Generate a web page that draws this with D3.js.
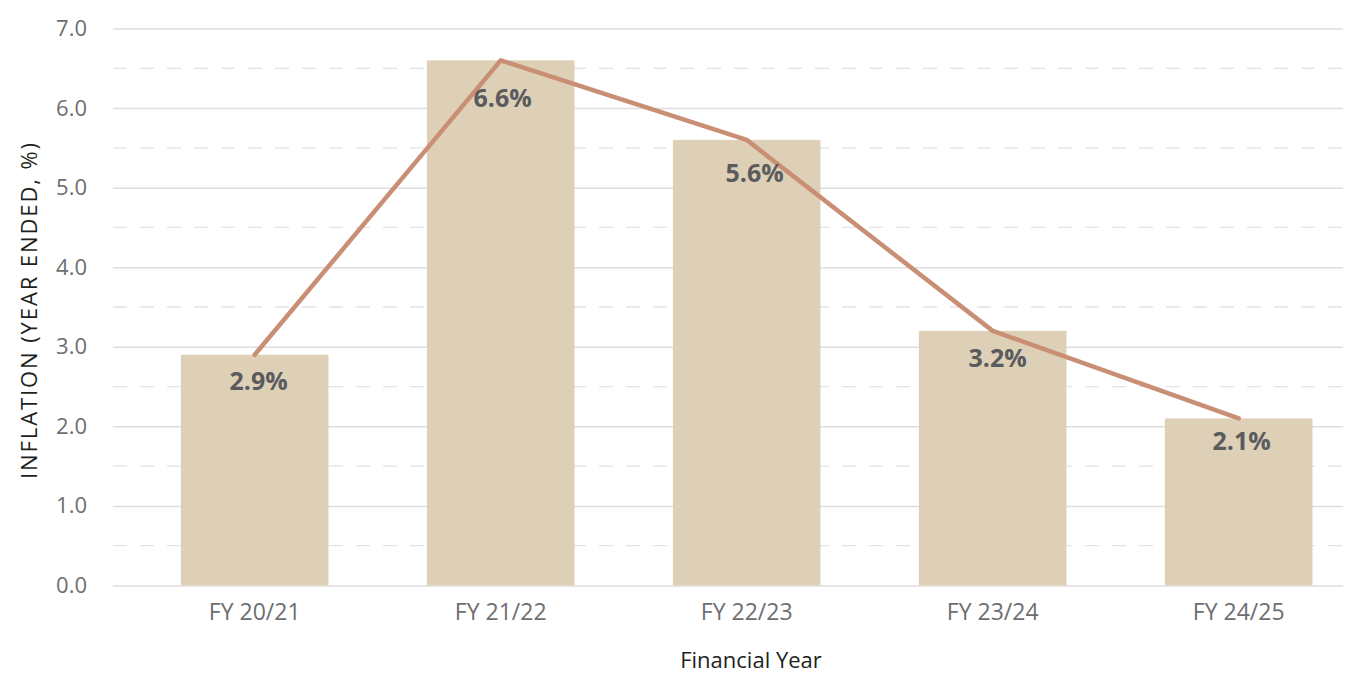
<!DOCTYPE html>
<html>
<head>
<meta charset="utf-8">
<script src="https://cdn.jsdelivr.net/npm/d3@7"></script>
<style>
  body { margin: 0; background: #fff; }
  svg { display: block; font-family: "Open Sans", sans-serif; }
</style>
</head>
<body>
<script>
// dados do grafico
const years = ["FY 20/21", "FY 21/22", "FY 22/23", "FY 23/24", "FY 24/25"];
const inflation = [2.9, 6.6, 5.6, 3.2, 2.1];
const yTicks = [0, 1, 2, 3, 4, 5, 6, 7];
const yHalfTicks = [0.5, 1.5, 2.5, 3.5, 4.5, 5.5, 6.5];

const W = 1351, H = 686;
const plotLeft = 113, plotRight = 1343, plotTop = 28.5, plotBottom = 585.5;
const fonte = '"Open Sans", sans-serif';

const svg = d3.select("body").append("svg").attr("width", W).attr("height", H);

const x = d3.scaleBand().domain(years).range([plotLeft, plotRight])
  .paddingInner(0.4).paddingOuter(0.2).align(0.69);
const y = d3.scaleLinear().domain([0, 7]).range([plotBottom, plotTop]);

// grelha pontilhada (meias unidades)
svg.append("g").selectAll("line").data(yHalfTicks).join("line")
  .attr("x1", plotLeft).attr("x2", plotRight)
  .attr("y1", d => y(d)).attr("y2", d => y(d))
  .attr("stroke", "#e3e3e3").attr("stroke-width", 1.3)
  .attr("stroke-dasharray", "14,13");

// eixo y com grelha continua
const yAxis = svg.append("g").attr("transform", `translate(${plotLeft},0)`)
  .call(d3.axisLeft(y).tickValues(yTicks).tickFormat(d3.format(".1f"))
    .tickSize(-(plotRight - plotLeft)).tickPadding(26))
  .attr("font-family", fonte);
yAxis.select(".domain").remove();
yAxis.selectAll(".tick line").attr("stroke", "#dedede").attr("stroke-width", 1.5);
yAxis.selectAll(".tick text").attr("fill", "#6d6e71").attr("font-size", 22);

// barras
svg.append("g").selectAll("rect").data(inflation).join("rect")
  .attr("x", (d, i) => x(years[i]))
  .attr("width", x.bandwidth())
  .attr("y", d => y(d))
  .attr("height", d => plotBottom - y(d))
  .attr("fill", "#ded0b6");

// linha de tendencia
const line = d3.line()
  .x((d, i) => x(years[i]) + x.bandwidth() / 2)
  .y(d => y(d));
svg.append("path").datum(inflation)
  .attr("d", line)
  .attr("fill", "none")
  .attr("stroke", "#c98f75")
  .attr("stroke-width", 4.5)
  .attr("stroke-linecap", "round")
  .attr("stroke-linejoin", "round");

// rotulos das barras (ajuste manual para nao tocar na linha)
const labelDx = [4, 2, 8, 5, 3];
const labelDy = [27, 38, 33, 27, 23];
svg.append("g").selectAll("text").data(inflation).join("text")
  .attr("x", (d, i) => x(years[i]) + x.bandwidth() / 2 + labelDx[i])
  .attr("y", (d, i) => y(d) + labelDy[i])
  .attr("dy", "0.35em")
  .attr("text-anchor", "middle")
  .attr("font-size", 25)
  .attr("font-weight", 700)
  .attr("fill", "#5a5b5e")
  .text(d => d.toFixed(1) + "%");

// eixo x
const xAxis = svg.append("g").attr("transform", `translate(0,${plotBottom})`)
  .call(d3.axisBottom(x).tickSize(0).tickPadding(18))
  .attr("font-family", fonte);
xAxis.select(".domain").remove();
xAxis.selectAll(".tick text").attr("fill", "#6d6e71").attr("font-size", 23);

// titulos dos eixos
svg.append("text")
  .attr("x", 751).attr("y", 668)
  .attr("text-anchor", "middle")
  .attr("font-size", 22).attr("fill", "#231f20")
  .text("Financial Year");

svg.append("text")
  .attr("transform", `translate(37,310) rotate(-90)`)
  .attr("text-anchor", "middle")
  .attr("font-size", 22).attr("letter-spacing", 1.9)
  .attr("fill", "#231f20")
  .text("INFLATION (YEAR ENDED, %)");
</script>
</body>
</html>
